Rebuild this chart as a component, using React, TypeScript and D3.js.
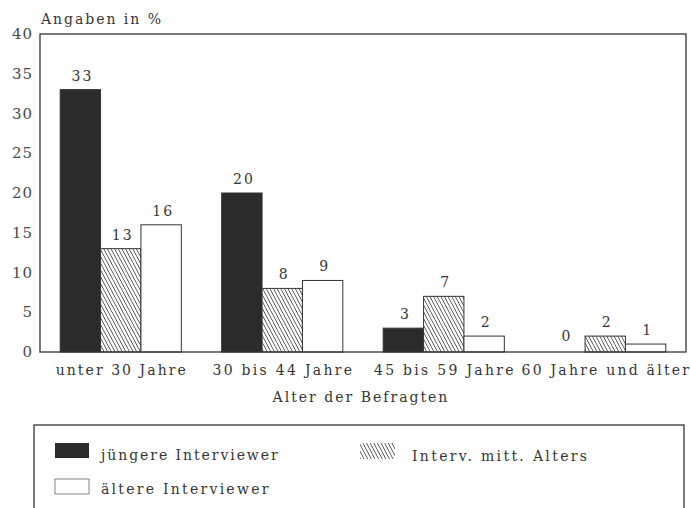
import React from "react";
import * as d3 from "d3";

const categories = ["unter 30 Jahre", "30 bis 44 Jahre", "45 bis 59 Jahre", "60 Jahre und älter"];
const seriesNames = ["jüngere Interviewer", "Interv. mitt. Alters", "ältere Interviewer"];
const jung = [33, 20, 3, 0];
const mittel = [13, 8, 7, 2];
const alt = [16, 9, 2, 1];
const yTicks = [0, 5, 10, 15, 20, 25, 30, 35, 40];

const W = 690, H = 508;
const M = { left: 40, right: 686, top: 34, bottom: 352 };
const FONT = "'DejaVu Serif', serif";
const TXT = "#353535";
const ADV = 9.3;

function T(props: any) {
  const { children, adv = ADV, ...rest } = props;
  const s = String(children);
  return (
    <text fontFamily={FONT} fontSize={14} fill={TXT} textLength={s.length * adv} lengthAdjust="spacing" {...rest}>
      {s}
    </text>
  );
}

export default function App() {
  const series = [jung, mittel, alt];
  const x0 = d3.scaleBand<string>().domain(categories).range([M.left, M.right]).paddingInner(0.25).paddingOuter(0.125);
  const x1 = d3.scaleBand<number>().domain([0, 1, 2]).range([0, x0.bandwidth()]);
  const y = d3.scaleLinear().domain([0, 40]).range([M.bottom, M.top]);
  const fills = ["#2b2b2b", "url(#hatch)", "#ffffff"];

  return (
    <svg width={W} height={H} style={{ position: "absolute", left: 0, top: 0, background: "#fff" }}>
      <defs>
        <pattern id="hatch" patternUnits="userSpaceOnUse" width="3.2" height="3.2" patternTransform="rotate(-28)">
          <rect width="3.2" height="3.2" fill="#fff" />
          <line x1="0" y1="0" x2="0" y2="3.2" stroke="#333" strokeWidth="1.4" />
        </pattern>
      </defs>
      <T x={41} y={24} adv={10}>Angaben in %</T>
      {yTicks.map((t) => (
        <T key={t} x={32} y={y(t) + 5} textAnchor="end" adv={10} fontSize={15} fill="#4a4a4a">{t}</T>
      ))}
      {categories.map((c, i) => (
        <g key={c}>
          {series.map((s, j) => {
            const v = s[i];
            const bx = (x0(c) as number) + (x1(j) as number);
            return (
              <g key={j}>
                {v > 0 && (
                  <rect x={bx} y={y(v)} width={x1.bandwidth()} height={M.bottom - y(v)} fill={fills[j]} stroke="#333" strokeWidth={1} />
                )}
                <T x={bx + x1.bandwidth() / 2 + 1} y={y(v) - (v > 0 ? 9 : 11)} textAnchor="middle" adv={10}>{v}</T>
              </g>
            );
          })}
          <T x={(x0(c) as number) + x0.bandwidth() / 2} y={375} textAnchor="middle">{c}</T>
        </g>
      ))}
      <rect x={M.left} y={M.top} width={M.right - M.left} height={M.bottom - M.top} fill="none" stroke="#333" strokeWidth={1.3} />
      <T x={360} y={402} textAnchor="middle" adv={9.2}>Alter der Befragten</T>
      <rect x={34} y={425} width={650} height={100} fill="none" stroke="#333" strokeWidth={1.3} />
      <rect x={55} y={443} width={34} height={15} fill={fills[0]} />
      <T x={101} y={460}>{seriesNames[0]}</T>
      <rect x={360} y={443} width={35} height={16} fill={fills[1]} />
      <T x={412} y={461} adv={8.75}>{seriesNames[1]}</T>
      <rect x={55} y={479} width={34} height={15} fill="#fff" stroke="#666" strokeWidth={0.8} />
      <T x={101} y={494}>{seriesNames[2]}</T>
    </svg>
  );
}
